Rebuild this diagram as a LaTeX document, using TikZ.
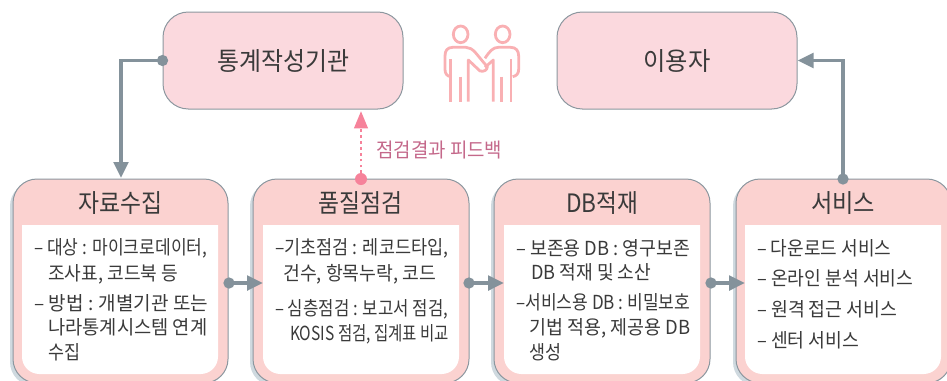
\documentclass[tikz,border=0pt]{standalone}
\usepackage{fontspec}
\usepackage{graphicx}
\setmainfont{Noto Sans CJK KR}
\usetikzlibrary{arrows.meta}
\definecolor{topfill}{HTML}{FBD9DE}
\definecolor{lowfill}{HTML}{FBD2D0}
\definecolor{shadowc}{HTML}{CFD9DF}
\definecolor{edgec}{HTML}{8C979F}
\definecolor{connc}{HTML}{84929B}
\definecolor{pinkc}{HTML}{F6829A}
\definecolor{labelc}{HTML}{C4688A}
\definecolor{iconc}{HTML}{F9B0B3}
\definecolor{textc}{HTML}{3A3A3A}
\tikzset{
  sized/.style 2 args={minimum width=#1*0.75pt,minimum height=#2*0.75pt},
  topbox/.style={draw=edgec,line width=0.75pt,fill=topfill,rounded corners=19pt,inner sep=0pt},
  lowbox/.style={draw=edgec,line width=0.75pt,fill=lowfill,rounded corners=18pt,inner sep=0pt},
  shadowbox/.style={fill=shadowc,rounded corners=18pt,inner sep=0pt},
  dotn/.style={circle,fill=connc,minimum size=8.5pt,inner sep=0pt},
  pdot/.style={circle,fill=pinkc,minimum size=9pt,inner sep=0pt},
  conn/.style={draw=connc,line width=2.6pt,-{Triangle[length=12pt,width=11pt]}},
  fb/.style={draw=pinkc,line width=2.2pt,dash pattern=on 2pt off 2.4pt,-{Triangle[length=13pt,width=10pt,fill=pinkc]}},
  bodyt/.style={anchor=base west,inner sep=0pt,text=textc,font=\fontsize{14.5}{14.5}\selectfont},
  titlet/.style={anchor=base,inner sep=0pt,text=textc,font=\fontsize{19}{19}\selectfont},
  labelt/.style={anchor=base west,inner sep=0pt,text=labelc,font=\fontsize{15}{15}\selectfont},
  icon/.style={draw=iconc,line width=2.1pt,line join=round},
}
% line of text: style, name, x, baseline y, width in px, text
\newcommand{\fitline}[6]{\node[#1] (#2) at (#3,#4) {\resizebox{\dimexpr #5pt*3/4\relax}{\height}{#6}};}
\begin{document}
\begin{tikzpicture}[x=0.75pt,y=-0.75pt]
\useasboundingbox (0,0) rectangle (947,380);
\clip (0,0) rectangle (947,380);
% top boxes
\node[topbox,sized={240}{97}] (org) at (283,60.5) {};
\node[topbox,sized={240}{97}] (user) at (677,60.5) {};
\fitline{titlet}{orgt}{283.5}{70}{132}{통계작성기관}
\fitline{titlet}{usert}{677}{70}{67}{이용자}
% lower boxes: shadows
\node[shadowbox,sized={215}{204}] (s1) at (117.5,284) {};
\node[shadowbox,sized={215}{204}] (s2) at (357.5,284) {};
\node[shadowbox,sized={215}{204}] (s3) at (598.5,284) {};
\node[shadowbox,sized={215}{204}] (s4) at (840.5,284) {};
% lower boxes
\node[lowbox,sized={215}{204}] (b1) at (120.5,281) {};
\node[lowbox,sized={216}{204}] (b2) at (361,281) {};
\node[lowbox,sized={216}{204}] (b3) at (602,281) {};
\node[lowbox,sized={215}{204}] (b4) at (843.5,281) {};
% white panels
\coordinate (e2) at (263,283);
\coordinate (e3) at (504,283);
\coordinate (e4) at (745,283);
\fill[white] (22,225) -- (218,225) [rounded corners=13pt] -- (218,374) -- (22,374) [sharp corners] -- cycle;
\fill[white] (263,225) -- (459,225) [rounded corners=13pt] -- (459,374) -- (263,374) [sharp corners] -- cycle;
\fill[white] (504,225) -- (700,225) [rounded corners=13pt] -- (700,374) -- (504,374) [sharp corners] -- cycle;
\fill[white] (745,225) -- (941,225) [rounded corners=13pt] -- (941,374) -- (745,374) [sharp corners] -- cycle;
% titles
\fitline{titlet}{t1}{120}{212.5}{84}{자료수집}
\fitline{titlet}{t2}{360}{212.5}{84}{품질점검}
\fitline{titlet}{t3}{602}{212.5}{72}{DB적재}
\fitline{titlet}{t4}{843}{212.5}{64}{서비스}
% body 1
\fitline{bodyt}{a1}{34}{254}{173}{– 대상 : 마이크로데이터,}
\fitline{bodyt}{a2}{48}{280}{130}{조사표, 코드북 등}
\fitline{bodyt}{a3}{34}{310}{174}{– 방법 : 개별기관 또는}
\fitline{bodyt}{a4}{48}{334}{159}{나라통계시스템 연계}
\fitline{bodyt}{a5}{48}{359}{32}{수집}
% body 2
\fitline{bodyt}{c1}{275}{254}{173}{–기초점검 : 레코드타입,}
\fitline{bodyt}{c2}{283}{280}{153}{건수, 항목누락, 코드}
\fitline{bodyt}{c3}{275}{315}{173}{– 심층점검 : 보고서 점검,}
\fitline{bodyt}{c4}{290}{340}{159}{KOSIS 점검, 집계표 비교}
% body 3
\fitline{bodyt}{d1}{516}{255}{174}{– 보존용 DB : 영구보존}
\fitline{bodyt}{d2}{531}{279}{120}{DB 적재 및 소산}
\fitline{bodyt}{d3}{516}{309}{174}{–서비스용 DB : 비밀보호}
\fitline{bodyt}{d4}{529}{334}{161}{기법 적용, 제공용 DB}
\fitline{bodyt}{d5}{529}{359}{32}{생성}
% body 4
\fitline{bodyt}{f1}{757}{255}{134}{– 다운로드 서비스}
\fitline{bodyt}{f2}{757}{285}{156}{– 온라인 분석 서비스}
\fitline{bodyt}{f3}{757}{316}{140}{– 원격 접근 서비스}
\fitline{bodyt}{f4}{757}{347}{102}{– 센터 서비스}
% label
\fitline{labelt}{lab}{376}{157.5}{126}{점검결과 피드백}
% connectors
\node[dotn] (p0) at (org.west) {};
\coordinate (p0t) at (121,178);
\draw[conn] (p0.center) -| (p0t);
\node[dotn] (p1) at (229,283) {};
\node[dotn] (p2) at (469,283) {};
\node[dotn] (p3) at (711,283) {};
\draw[conn] (p1.center) -- (e2);
\draw[conn] (p2.center) -- (e3);
\draw[conn] (p3.center) -- (e4);
\node[dotn] (p4) at (843,179) {};
\draw[conn] (p4.center) |- (user.east);
\node[pdot] (p5) at (361,179) {};
\coordinate (fbt) at (361,111);
\draw[fb] (p5.center) -- (fbt);
% people icon
\begin{scope}[shift={(430,10)},x=0.25pt,y=-0.25pt]
\draw[icon] (92,73) ellipse [x radius=22,y radius=25];
\draw[icon] (218,73) ellipse [x radius=22,y radius=25];
% left person
\draw[icon] (62,200) .. controls (50,198) and (45,190) .. (45,178) -- (45,138) .. controls (45,122) and (52,112) .. (68,112) -- (108,112) .. controls (130,112) and (140,135) .. (172,170) .. controls (172,180) and (162,186) .. (150,183) -- (115,150) -- (115,275);
\draw[icon] (62,148) -- (62,275);
\draw[icon] (92,200) -- (92,275);
% right person
\draw[icon] (248,200) .. controls (260,198) and (266,190) .. (266,178) -- (266,138) .. controls (266,122) and (258,112) .. (242,112) -- (205,112) .. controls (188,112) and (178,125) .. (165,145);
\draw[icon] (165,172) -- (190,150) -- (190,275);
\draw[icon] (243,148) -- (243,275);
\draw[icon] (215,200) -- (215,275);
\end{scope}
\end{tikzpicture}
\end{document}
